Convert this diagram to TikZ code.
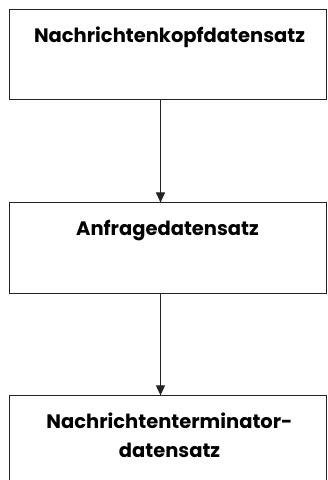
\documentclass[tikz,border=0pt]{standalone}
\usepackage{fontspec}
\setmainfont{Poppins}
\usetikzlibrary{positioning,arrows.meta}
\definecolor{framegray}{RGB}{35,35,35}

\begin{document}
\begin{tikzpicture}[
    recbox/.style={draw=framegray, line width=0.9pt, minimum width=317pt, minimum height=90pt, inner sep=0pt},
    boxtitle/.style={font=\bfseries\fontsize{19.5}{29}\selectfont, align=center, anchor=base, inner sep=0pt},
    flow/.style={-{Triangle[width=9pt,length=10pt]}, line width=0.9pt, draw=framegray},
    node distance=103pt
]
    \useasboundingbox (0,0) rectangle (328pt,-480pt);
    % Record boxes
    \node[recbox] (kopf) at (167.5pt,-54pt) {};
    \node[recbox, minimum height=91pt, below=of kopf] (anfrage) {};
    \node[recbox, minimum height=100pt, below=101pt of anfrage] (ende) {};
    % Titles at the top of each box (base = last line)
    \node[boxtitle] (kopftxt) at ([xshift=2pt,yshift=-34pt]kopf.north) {Nachrichtenkopfdatensatz};
    \node[boxtitle] (anfragetxt) at ([yshift=-33pt]anfrage.north) {Anfragedatensatz};
    \node[boxtitle] (endetxt) at ([xshift=2pt,yshift=-62pt]ende.north) {Nachrichtenterminator-\\datensatz};
    % Connectors
    \draw[flow] ([xshift=-7pt]kopf.south) -- ([xshift=-7pt]anfrage.north);
    \draw[flow] ([xshift=-7pt]anfrage.south) -- ([xshift=-7pt]ende.north);
\end{tikzpicture}
\end{document}
